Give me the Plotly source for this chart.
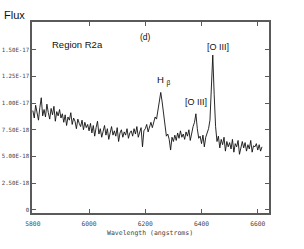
import plotly.graph_objects as go

# Wavelength grid (angstroms) and flux (units of 1e-18)
wavelength = list(range(5800, 6620, 5))
flux_e18 = [
    9.3, 8.6, 9.8, 9.0, 8.4, 9.6, 10.5, 8.8, 9.4, 8.7,
    9.9, 9.1, 8.5, 9.5, 8.9, 9.7, 8.3, 9.2, 8.8, 9.4,
    8.6, 9.0, 8.2, 8.9, 7.9, 8.7, 8.4, 9.1, 8.0, 8.6,
    8.3, 7.6, 8.5, 8.1, 7.8, 8.4, 7.5, 8.2, 7.7, 8.0,
    7.4, 8.1, 7.2, 7.9, 6.9, 7.7, 8.3, 7.1, 7.6, 6.8,
    7.5, 7.9, 7.0, 7.6, 6.6, 7.3, 7.8, 7.0, 7.4, 6.9,
    7.7, 6.4, 7.2, 7.5, 6.8, 7.3, 7.0, 7.6, 6.7, 7.2,
    7.4, 6.9, 7.6, 7.1, 7.8, 6.8, 7.3, 7.7, 5.9, 7.4,
    7.6, 8.0, 7.3, 7.9, 8.2, 7.7, 8.3, 8.7, 8.5, 9.3,
    10.2, 11.0, 10.1, 9.0, 7.7, 6.9, 7.1, 6.6, 5.6, 6.8,
    6.4, 7.0, 6.5, 7.2, 6.7, 7.4, 6.8, 7.1, 6.6, 7.3,
    6.9, 7.5, 6.5, 7.2, 7.8, 8.2, 9.0, 7.6, 6.7, 6.9,
    6.2, 7.0, 5.9, 6.8, 7.3, 7.6, 8.4, 11.5, 14.5, 10.8,
    7.8, 6.4, 6.9, 5.8, 6.6, 6.1, 6.8, 5.5, 6.4, 5.9,
    6.3, 5.7, 6.6, 5.4, 6.2, 5.9, 6.5, 5.2, 6.0, 6.4,
    5.8, 6.3, 5.5, 6.1, 5.7, 6.5, 5.4, 6.0, 5.9, 6.2,
    5.6, 6.1, 5.5, 5.9,
]
flux = [v * 1e-18 for v in flux_e18]

y_tickvals = [0, 2.5e-18, 5e-18, 7.5e-18, 1e-17, 1.25e-17, 1.5e-17]
y_ticktext = ["0", "2.50E-18", "5.00E-18", "7.50E-18", "1.00E-17", "1.25E-17", "1.50E-17"]
x_tickvals = [5800, 6000, 6200, 6400, 6600]
x_ticktext = ["5800", "6000", "6200", "6400", "6600"]

W, H = 304, 249
ML, MR, MT, MB = 32, 35, 22, 36

fig = go.Figure()
fig.add_trace(go.Scatter(x=wavelength, y=flux, mode="lines",
                         line=dict(color="#111111", width=0.9), hoverinfo="skip"))

axis_common = dict(showgrid=False, zeroline=False, showline=True, linecolor="#5a5a5a",
                   linewidth=1.5, ticks="inside", ticklen=4, tickwidth=1.2,
                   tickcolor="#5a5a5a", mirror="ticks", automargin=False)

fig.update_layout(
    width=W, height=H,
    margin=dict(l=ML, r=MR, t=MT, b=MB, autoexpand=False),
    paper_bgcolor="white", plot_bgcolor="white",
    showlegend=False,
    xaxis=dict(range=[5797, 6640], tickvals=x_tickvals, ticktext=x_ticktext,
               ticklabelstandoff=4,
               tickfont=dict(family="DejaVu Sans Mono", size=6.3, color="#444444"),
               **axis_common),
    yaxis=dict(range=[-0.3e-18, 17.6e-18], tickvals=y_tickvals, ticktext=y_ticktext,
               ticklabelstandoff=0,
               tickfont=dict(family="DejaVu Sans Mono", size=5.7, color="#444444"),
               **axis_common),
)

sans = "Liberation Sans"
labels = [
    ("Flux", 2, 15, 11),
    ("Region R2a", 50, 44, 9.5),
    ("(d)", 138, 37, 8.5),
    ("[O III]", 205, 47, 9),
    ("[O III]", 183, 102, 9),
    ("H <sub>β</sub>", 155, 81, 9.5),
]
pw = W - ML - MR
ph = H - MT - MB
for text, x, y, size in labels:
    fig.add_annotation(text=text, xref="paper", yref="paper",
                       x=(x - ML) / pw, y=1 - (y - MT) / ph,
                       xanchor="left", yanchor="middle", showarrow=False,
                       font=dict(family=sans, size=size, color="#111111"))

fig.add_annotation(text="Wavelength (angstroms)", xref="paper", yref="paper",
                   x=(150 - ML) / pw, y=1 - (233 - MT) / ph,
                   xanchor="center", yanchor="middle", showarrow=False,
                   font=dict(family="DejaVu Sans Mono", size=6.5, color="#444444"))

fig.write_html("out.html", config={"displayModeBar": False},
               post_script="document.body.style.margin='0';")
